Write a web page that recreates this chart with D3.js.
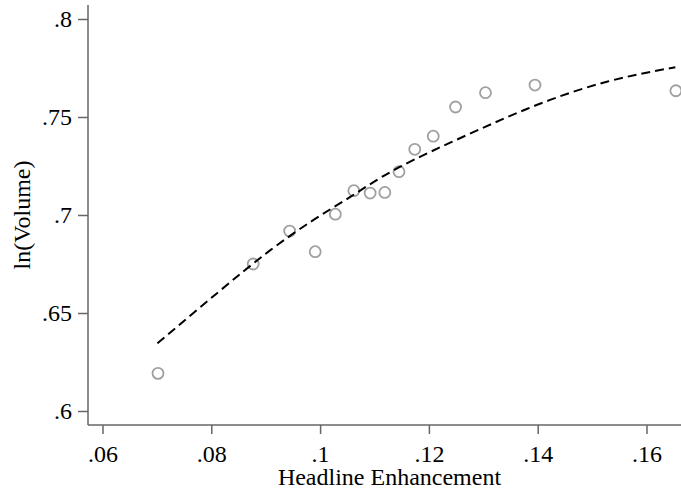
<!DOCTYPE html>
<html>
<head>
<meta charset="utf-8">
<script src="https://cdn.jsdelivr.net/npm/d3@7"></script>
<style>
  body { margin: 0; background: #fff; }
  text { font-family: "Liberation Serif", "Times New Roman", serif; fill: #000; }
</style>
</head>
<body>
<div id="chart"></div>
<script>
// binned scatter values
var headline = [0.0702, 0.0877, 0.0944, 0.0991, 0.1028, 0.1062, 0.1092, 0.1119, 0.1145, 0.1174, 0.1208, 0.1249, 0.1304, 0.1395, 0.1654];
var ln_volume = [0.6192, 0.6750, 0.6918, 0.6813, 0.7004, 0.7124, 0.7112, 0.7115, 0.7221, 0.7335, 0.7402, 0.7551, 0.7624, 0.7663, 0.7634];

// fitted curve (dashed), read at several points along it
var fit_x = [0.0701, 0.0810, 0.0905, 0.0988, 0.1061, 0.1143, 0.1270, 0.1398, 0.1527, 0.1653];
var fit_y = [0.6345, 0.6600, 0.6813, 0.6975, 0.7102, 0.7240, 0.7408, 0.7561, 0.7680, 0.7754];

var x_ticks = [0.06, 0.08, 0.10, 0.12, 0.14, 0.16];
var x_labels = [".06", ".08", ".1", ".12", ".14", ".16"];
var y_ticks = [0.6, 0.65, 0.7, 0.75, 0.8];
var y_labels = [".6", ".65", ".7", ".75", ".8"];

var W = 681, H = 492;
var fs = "24px";

var svg = d3.select("#chart")
    .append("svg")
    .attr("width", W)
    .attr("height", H);

// scales
var x = d3.scaleLinear().domain([0.06, 0.16]).range([102.5, 646.5]);
var y = d3.scaleLinear().domain([0.6, 0.8]).range([411, 19]);

var axis_left = 88, axis_bottom = 425;

// y axis
var yAxis = d3.axisLeft(y)
    .tickValues(y_ticks)
    .tickSize(10)
    .tickPadding(6)
    .tickFormat(function(d, i) { return y_labels[i]; });

var gy = svg.append("g")
    .attr("transform", "translate(" + axis_left + ",0)")
    .call(yAxis);
gy.select(".domain").remove();
gy.selectAll("line").attr("stroke", "#666").attr("stroke-width", 1.5);
gy.selectAll("text").style("font-size", fs).attr("fill", "#000");

// x axis
var xAxis = d3.axisBottom(x)
    .tickValues(x_ticks)
    .tickSize(9)
    .tickPadding(11)
    .tickFormat(function(d, i) { return x_labels[i]; });

var gx = svg.append("g")
    .attr("transform", "translate(0," + axis_bottom + ")")
    .call(xAxis);
gx.select(".domain").remove();
gx.selectAll("line").attr("stroke", "#666").attr("stroke-width", 1.5);
gx.selectAll("text").style("font-size", fs).attr("fill", "#000");

// axis lines
svg.append("line")
    .attr("x1", axis_left).attr("x2", axis_left)
    .attr("y1", 5).attr("y2", axis_bottom)
    .attr("stroke", "#666").attr("stroke-width", 1.5);
svg.append("line")
    .attr("x1", axis_left).attr("x2", W)
    .attr("y1", axis_bottom).attr("y2", axis_bottom)
    .attr("stroke", "#666").attr("stroke-width", 1.5);

// axis titles
svg.append("text")
    .attr("x", (x(0.06) + x(0.16)) / 2 + 15)
    .attr("y", 485)
    .attr("text-anchor", "middle")
    .style("font-size", fs)
    .text("Headline Enhancement");

svg.append("text")
    .attr("transform", "translate(30," + y(0.7) + ") rotate(-90)")
    .attr("text-anchor", "middle")
    .style("font-size", fs)
    .text("ln(Volume)");

// scatter points
var pts = headline.map(function(d, i) { return [d, ln_volume[i]]; });
svg.append("g")
    .selectAll("circle")
    .data(pts)
    .enter()
    .append("circle")
    .attr("cx", function(d) { return x(d[0]); })
    .attr("cy", function(d) { return y(d[1]); })
    .attr("r", 5.5)
    .attr("fill", "none")
    .attr("stroke", "#a0a0a0")
    .attr("stroke-width", 1.8);

// fitted line
var fit = fit_x.map(function(d, i) { return [d, fit_y[i]]; });
var line = d3.line()
    .x(function(d) { return x(d[0]); })
    .y(function(d) { return y(d[1]); })
    .curve(d3.curveNatural);

svg.append("path")
    .datum(fit)
    .attr("d", line)
    .attr("fill", "none")
    .attr("stroke", "#000")
    .attr("stroke-width", 2)
    .attr("stroke-dasharray", "9,5");
</script>
</body>
</html>
